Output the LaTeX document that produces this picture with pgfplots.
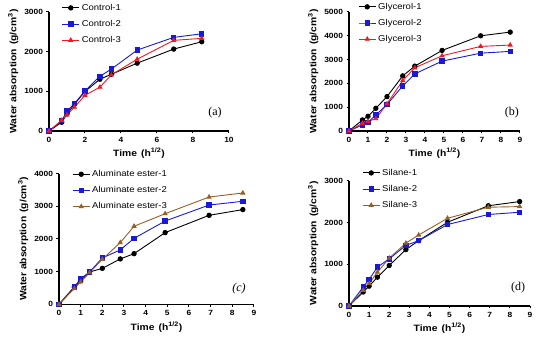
\documentclass[border=0pt]{standalone}
\usepackage{fontspec}
\setmainfont[FakeStretch=1.12]{Liberation Sans}
\newfontfamily\tnr{Liberation Serif}
\usepackage{pgfplots}
\pgfplotsset{compat=1.18}
\definecolor{myblue}{RGB}{25,25,215}
\definecolor{myred}{RGB}{240,25,35}
\definecolor{mybrown}{RGB}{150,95,35}
\pgfplotsset{panel/.style={
  scale only axis, axis lines=left, axis line style={-, line width=1.1pt},
  tick align=outside, major tick length=2.5pt, tick style={line width=1pt, black},
  xmin=0, ymin=0, clip=false,
  tick label style={font=\fontsize{7.5}{8}\selectfont\bfseries},
  /pgf/number format/assume math mode=true,
  /pgf/number format/1000 sep={},
  scaled y ticks=false,
  xlabel={Time\hspace{0.45em}(h\textsuperscript{1/2})},
  ylabel={Water absorption\hspace{0.45em}(g/cm\textsuperscript{3})},
  label style={font=\fontsize{9.2}{10}\selectfont\bfseries},
  xlabel style={yshift=1pt},
  ylabel style={yshift=-1pt},
  legend style={draw=none, fill=none, font=\fontsize{8.5}{10}\selectfont, anchor=north west, row sep=4.5pt, inner sep=0pt, cells={anchor=west}},
  every axis plot/.append style={line width=0.9pt, mark size=2.2pt},
}}
\pgfplotsset{
  s1/.style={black, mark=*, mark options={solid,fill=black}},
  s2/.style={myblue, mark=square*, mark options={solid,fill=myblue}},
  s3/.style={myred, mark=triangle*, mark options={solid,fill=myred}},
  s4/.style={mybrown, mark=triangle*, mark options={solid,fill=mybrown}},
}
\begin{document}
\begin{tikzpicture}[x=1pt,y=1pt]
\useasboundingbox (0,0) rectangle (550,344);
% (a)
\begin{axis}[panel, at={(49pt,213pt)}, anchor=south west, width=180pt, height=119pt,
  xmax=10, ymax=3000, xtick={0,2,4,6,8,10}, ytick={0,1000,2000,3000},
  legend style={at={(rel axis cs:0.07,1.085)}}]
\addplot[s1] coordinates {(0,0) (0.707,220) (1,430) (1.414,675) (2,995) (2.828,1305) (3.464,1430) (4.899,1710) (6.928,2065) (8.485,2250)};
\addplot[s2] coordinates {(0,0) (0.707,260) (1,505) (1.414,690) (2,1010) (2.828,1380) (3.464,1560) (4.899,2040) (6.928,2360) (8.485,2450)};
\addplot[s3] coordinates {(0,0) (0.707,270) (1,405) (1.414,600) (2,900) (2.828,1105) (3.464,1415) (4.899,1810) (6.928,2285) (8.485,2335)};
\legend{Control-1,Control-2,Control-3}
\node[font=\tnr\fontsize{12}{14}\selectfont] at (rel axis cs:0.922,0.151) {(a)};
\end{axis}
% (b)
\begin{axis}[panel, at={(349pt,213pt)}, anchor=south west, width=171pt, height=119pt,
  xmax=9, ymax=5000, xtick={0,1,...,9}, ytick={0,1000,...,5000},
  legend style={at={(rel axis cs:0.053,1.094)}}]
\addplot[s1] coordinates {(0,0) (0.707,465) (1,620) (1.414,955) (2,1445) (2.828,2315) (3.464,2725) (4.899,3385) (6.928,4000) (8.485,4155)};
\addplot[s2] coordinates {(0,0) (0.707,255) (1,365) (1.414,675) (2,1110) (2.828,1895) (3.464,2400) (4.899,2935) (6.928,3270) (8.485,3345)};
\addplot[s3] coordinates {(0,0) (0.707,325) (1,405) (1.414,520) (2,1140) (2.828,2120) (3.464,2655) (4.899,3160) (6.928,3555) (8.485,3610)};
\legend{Glycerol-1,Glycerol-2,Glycerol-3}
\node[font=\tnr\fontsize{12}{14}\selectfont] at (rel axis cs:0.953,0.151) {(b)};
\end{axis}
% (c)
\begin{axis}[panel, at={(59pt,39.7pt)}, anchor=south west, width=195pt, height=130.6pt,
  xmax=9, ymax=4000, xtick={0,1,...,9}, ytick={0,1000,...,4000},
  legend style={at={(rel axis cs:0.067,1.042)}}]
\addplot[s1] coordinates {(0,0) (0.707,530) (1,720) (1.414,990) (2,1100) (2.828,1390) (3.464,1550) (4.899,2195) (6.928,2725) (8.485,2900)};
\addplot[s2] coordinates {(0,0) (0.707,530) (1,785) (1.414,990) (2,1420) (2.828,1665) (3.464,2020) (4.899,2550) (6.928,3040) (8.485,3155)};
\addplot[s4] coordinates {(0,0) (0.707,480) (1,685) (1.414,970) (2,1380) (2.828,1890) (3.464,2390) (4.899,2775) (6.928,3285) (8.485,3410)};
\legend{Aluminate ester-1,Aluminate ester-2,Aluminate ester-3}
\node[font=\tnr\itshape\fontsize{12}{14}\selectfont] at (rel axis cs:0.923,0.117) {(c)};
\end{axis}
% (d)
\begin{axis}[panel, at={(349pt,38pt)}, anchor=south west, width=181pt, height=125.3pt,
  xmax=9, ymax=3000, xtick={0,1,...,9}, ytick={0,1000,2000,3000},
  legend style={at={(rel axis cs:0.072,1.11)}}]
\addplot[s1] coordinates {(0,0) (0.707,335) (1,475) (1.414,690) (2,970) (2.828,1350) (3.464,1565) (4.899,2005) (6.928,2400) (8.485,2500)};
\addplot[s2] coordinates {(0,0) (0.707,455) (1,635) (1.414,930) (2,1130) (2.828,1450) (3.464,1565) (4.899,1950) (6.928,2190) (8.485,2245)};
\addplot[s4] coordinates {(0,0) (0.707,375) (1,535) (1.414,810) (2,1145) (2.828,1505) (3.464,1700) (4.899,2100) (6.928,2365) (8.485,2380)};
\legend{Silane-1,Silane-2,Silane-3}
\node[font=\tnr\fontsize{12}{14}\selectfont] at (rel axis cs:0.934,0.144) {(d)};
\end{axis}
\end{tikzpicture}
\end{document}
